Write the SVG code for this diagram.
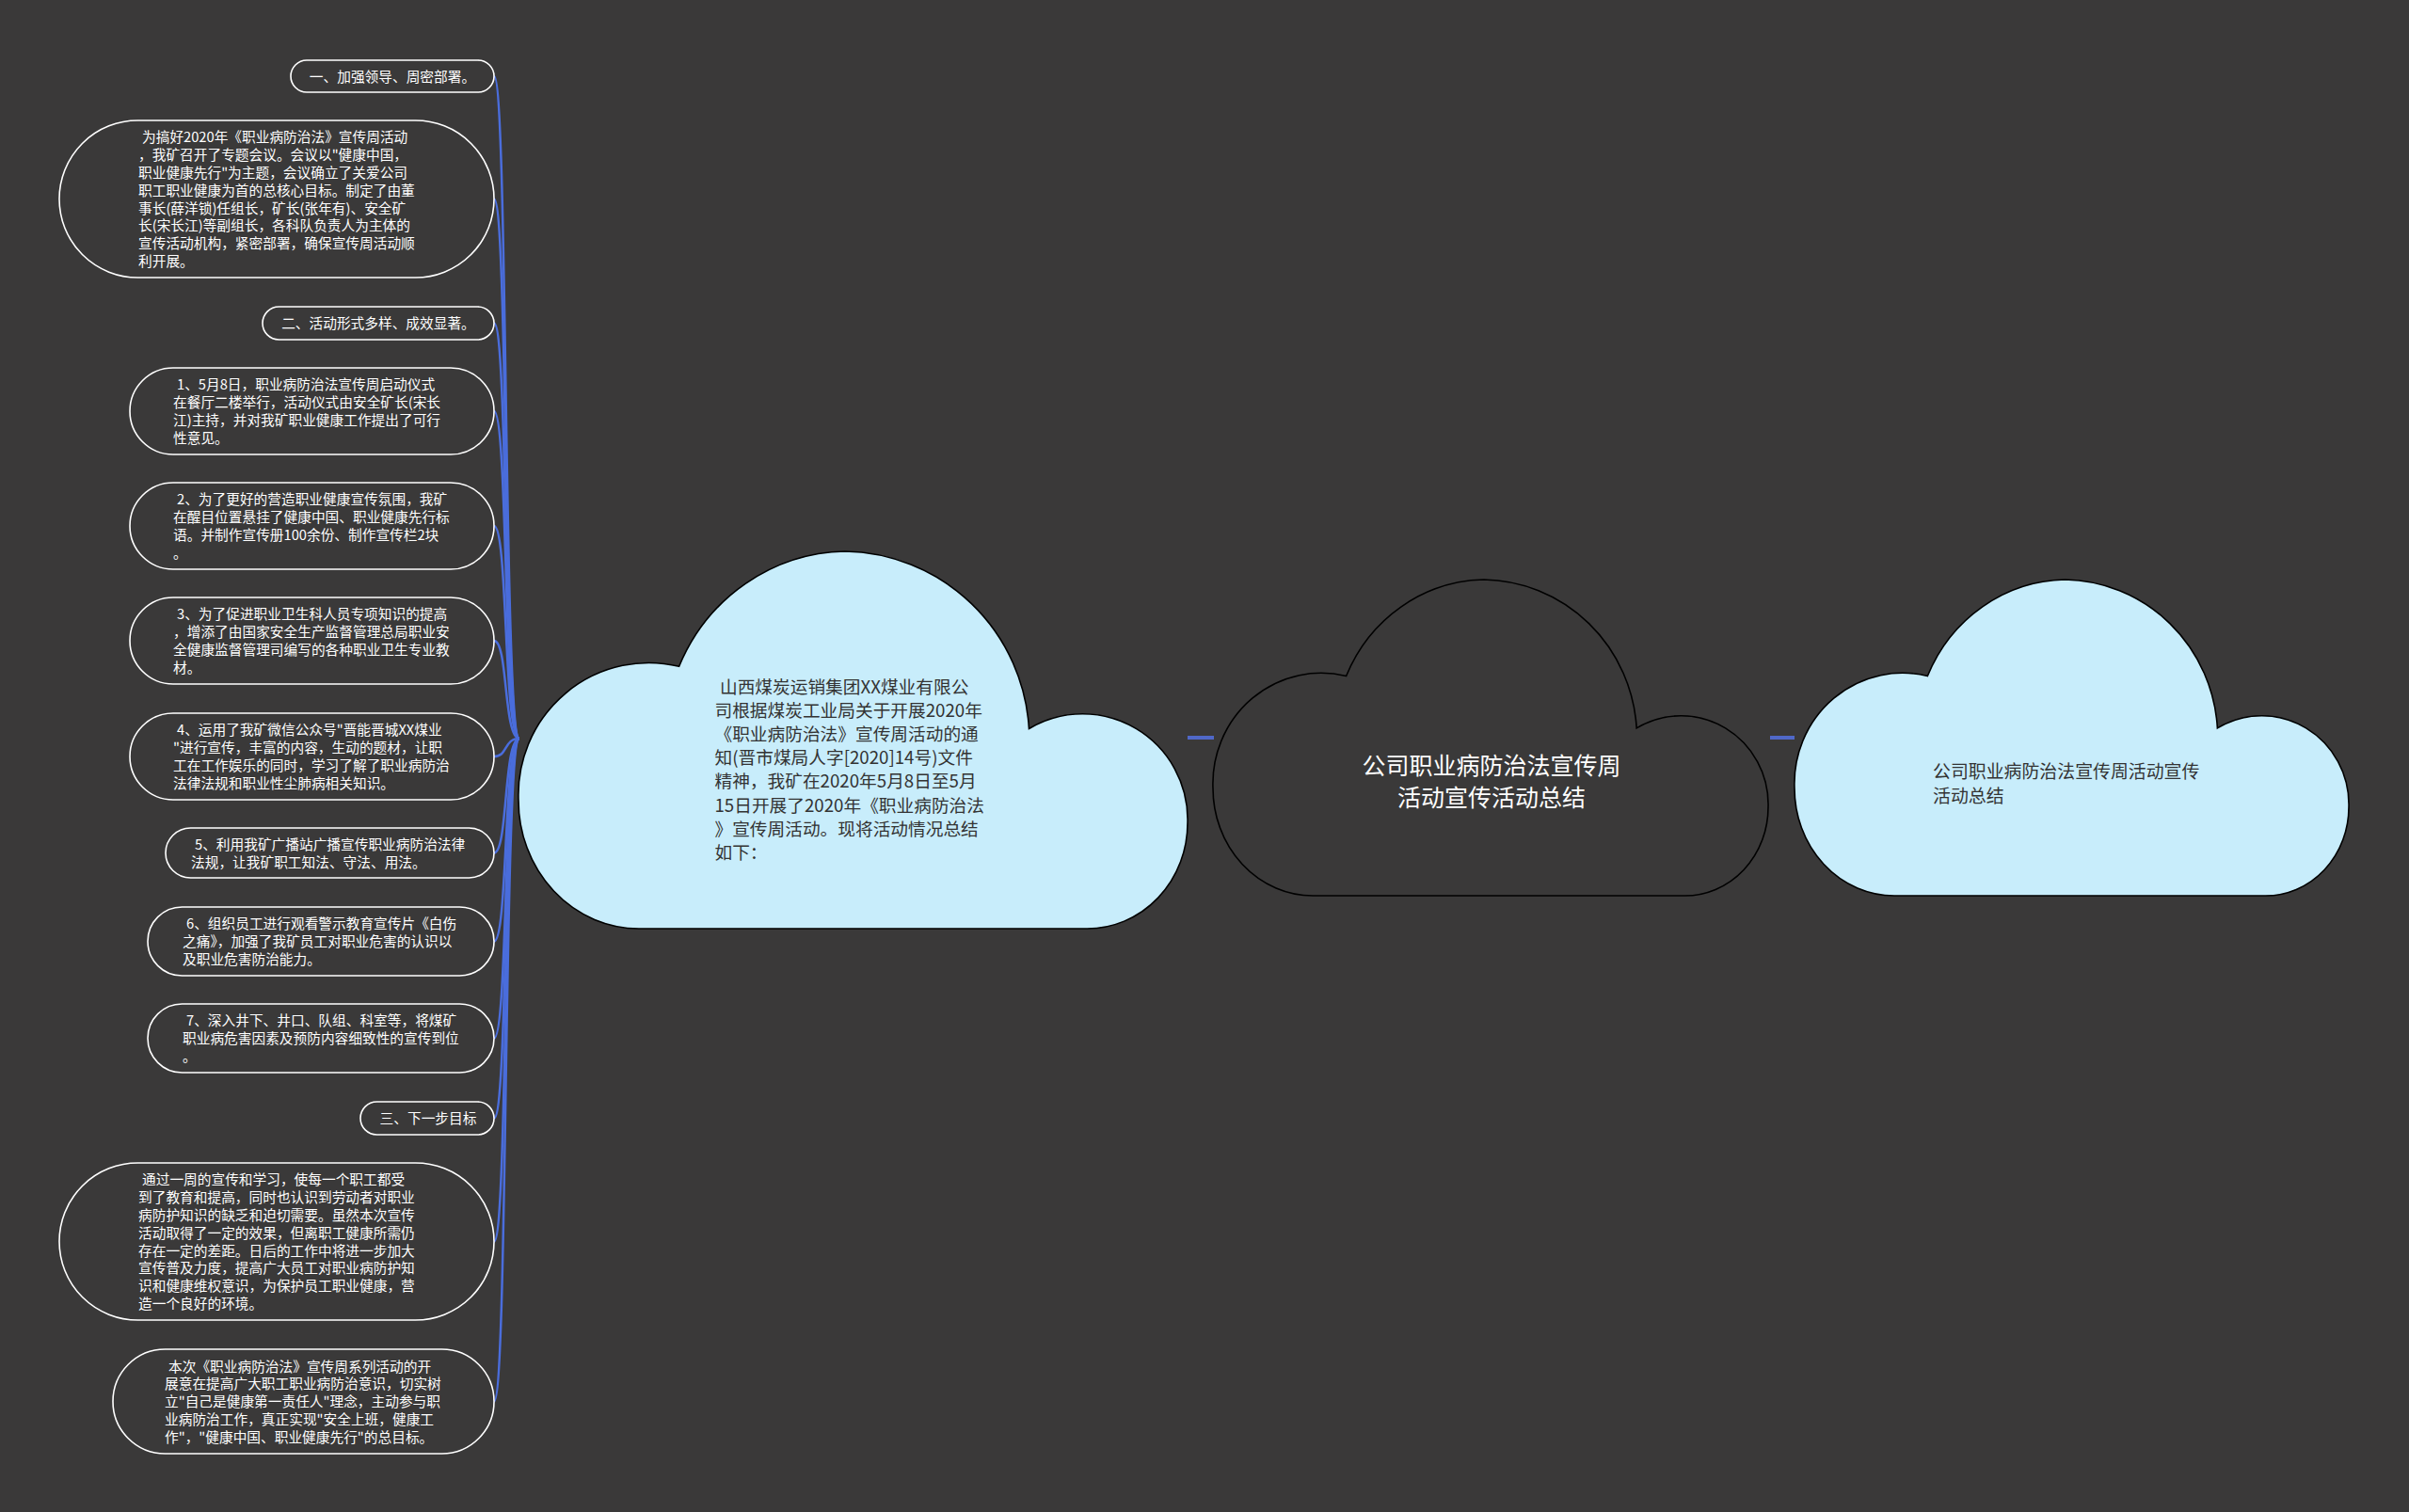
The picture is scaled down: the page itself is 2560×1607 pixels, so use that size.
<svg xmlns="http://www.w3.org/2000/svg" width="2560" height="1607" viewBox="0 0 2560 1607">
<defs>
<style>
.bg{fill:#3a3939}
.pill{fill:none;stroke:#ffffff;stroke-width:1.6}
.pt{font-family:"Noto Sans CJK SC","Microsoft YaHei",sans-serif;font-size:14.7px;fill:#ffffff}
.ph{font-family:"Noto Sans CJK SC","Microsoft YaHei",sans-serif;font-size:14.7px;fill:#ffffff;text-anchor:middle}
.cloud{stroke:#000000;stroke-width:1.6}
.lb{fill:#c8edfb}
.dk{fill:#3a3939}
.ct{font-family:"Noto Sans CJK SC","Microsoft YaHei",sans-serif;font-size:18.7px;fill:#333333}
.rt{font-family:"Noto Sans CJK SC","Microsoft YaHei",sans-serif;font-size:25px;fill:#ffffff;text-anchor:middle}
.conn{fill:none;stroke:#4a6ddc;stroke-width:2.5}
.dash{fill:none;stroke:#5068c8;stroke-width:4}
</style>
</defs>
<rect class="bg" x="0" y="0" width="2560" height="1607"/>

<g id="connectors">
<path class="conn" d="M 525 81 C 540 81, 535 785, 552 785"/>
<path class="conn" d="M 525 211.5 C 540 211.5, 535 785, 552 785"/>
<path class="conn" d="M 525 343.5 C 540 343.5, 535 785, 552 785"/>
<path class="conn" d="M 525 437 C 540 437, 535 785, 552 785"/>
<path class="conn" d="M 525 559 C 540 559, 535 785, 552 785"/>
<path class="conn" d="M 525 681 C 540 681, 535 785, 552 785"/>
<path class="conn" d="M 525 804 C 540 804, 535 785, 552 785"/>
<path class="conn" d="M 525 906.5 C 540 906.5, 535 785, 552 785"/>
<path class="conn" d="M 525 1000.5 C 540 1000.5, 535 785, 552 785"/>
<path class="conn" d="M 525 1103.5 C 540 1103.5, 535 785, 552 785"/>
<path class="conn" d="M 525 1188.5 C 540 1188.5, 535 785, 552 785"/>
<path class="conn" d="M 525 1319.5 C 540 1319.5, 535 785, 552 785"/>
<path class="conn" d="M 525 1489.5 C 540 1489.5, 535 785, 552 785"/>
<line class="dash" x1="1262" y1="784" x2="1290" y2="784"/>
<line class="dash" x1="1881" y1="784" x2="1907" y2="784"/>
</g>

<g id="node-root">
<path class="cloud dk" vector-effect="non-scaling-stroke" transform="translate(1289,616) scale(0.590,0.336)" d="M 180 1000 A 180 340 0 0 1 0 660 A 195 350 0 0 1 240 305 A 275 500 0 0 1 488 0 A 280 500 0 0 1 763 470 A 157 280 0 0 1 1000 720 A 150 280 0 0 1 850 1000 Z"/>
<text class="rt"><tspan x="1585" y="823">公司职业病防治法宣传周</tspan><tspan x="1585" y="856.5">活动宣传活动总结</tspan></text>
</g>

<g id="node-right">
<path class="cloud lb" vector-effect="non-scaling-stroke" transform="translate(1907,616) scale(0.589,0.336)" d="M 180 1000 A 180 340 0 0 1 0 660 A 195 350 0 0 1 240 305 A 275 500 0 0 1 488 0 A 280 500 0 0 1 763 470 A 157 280 0 0 1 1000 720 A 150 280 0 0 1 850 1000 Z"/>
<text class="ct" style="font-size:18.9px"><tspan x="2054" y="827">公司职业病防治法宣传周活动宣传</tspan><tspan x="2054" y="853">活动总结</tspan></text>
</g>

<g id="node-left">
<path class="cloud lb" vector-effect="non-scaling-stroke" transform="translate(551,586) scale(0.711,0.401)" d="M 180 1000 A 180 340 0 0 1 0 660 A 195 350 0 0 1 240 305 A 275 500 0 0 1 488 0 A 280 500 0 0 1 763 470 A 157 280 0 0 1 1000 720 A 150 280 0 0 1 850 1000 Z"/>
<text class="ct">
<tspan x="765" y="737">山西煤炭运销集团XX煤业有限公</tspan>
<tspan x="759.5" y="762.1">司根据煤炭工业局关于开展2020年</tspan>
<tspan x="759.5" y="787.2">《职业病防治法》宣传周活动的通</tspan>
<tspan x="759.5" y="812.3">知(晋市煤局人字[2020]14号)文件</tspan>
<tspan x="759.5" y="837.4">精神，我矿在2020年5月8日至5月</tspan>
<tspan x="759.5" y="862.5">15日开展了2020年《职业病防治法</tspan>
<tspan x="759.5" y="887.6">》宣传周活动。现将活动情况总结</tspan>
<tspan x="759.5" y="912.7">如下：</tspan>
</text>
</g>

<g id="node-h1">
<rect class="pill" x="309" y="64" width="216" height="34" rx="17"/>
<text class="ph" x="417" y="86.6">一、加强领导、周密部署。</text>
</g>

<g id="node-b1">
<rect class="pill" x="63" y="128" width="462" height="167" rx="83.5"/>
<text class="pt">
<tspan x="151" y="151.3">为搞好2020年《职业病防治法》宣传周活动</tspan>
<tspan x="147" y="170.1">，我矿召开了专题会议。会议以"健康中国，</tspan>
<tspan x="147" y="188.9">职业健康先行"为主题，会议确立了关爱公司</tspan>
<tspan x="147" y="207.7">职工职业健康为首的总核心目标。制定了由董</tspan>
<tspan x="147" y="226.5">事长(薛洋锁)任组长，矿长(张年有)、安全矿</tspan>
<tspan x="147" y="245.3">长(宋长江)等副组长，各科队负责人为主体的</tspan>
<tspan x="147" y="264.1">宣传活动机构，紧密部署，确保宣传周活动顺</tspan>
<tspan x="147" y="282.9">利开展。</tspan>
</text>
</g>

<g id="node-h2">
<rect class="pill" x="279" y="326" width="246" height="35" rx="17.5"/>
<text class="ph" x="402" y="349.1">二、活动形式多样、成效显著。</text>
</g>

<g id="node-p1">
<rect class="pill" x="138" y="391" width="387" height="92" rx="46"/>
<text class="pt">
<tspan x="188" y="414.4">1、5月8日，职业病防治法宣传周启动仪式</tspan>
<tspan x="184" y="433.2">在餐厅二楼举行，活动仪式由安全矿长(宋长</tspan>
<tspan x="184" y="452">江)主持，并对我矿职业健康工作提出了可行</tspan>
<tspan x="184" y="470.8">性意见。</tspan>
</text>
</g>

<g id="node-p2">
<rect class="pill" x="138" y="513" width="387" height="92" rx="46"/>
<text class="pt">
<tspan x="188" y="536.4">2、为了更好的营造职业健康宣传氛围，我矿</tspan>
<tspan x="184" y="555.2">在醒目位置悬挂了健康中国、职业健康先行标</tspan>
<tspan x="184" y="574">语。并制作宣传册100余份、制作宣传栏2块</tspan>
<tspan x="184" y="592.8">。</tspan>
</text>
</g>

<g id="node-p3">
<rect class="pill" x="138" y="635" width="387" height="92" rx="46"/>
<text class="pt">
<tspan x="188" y="658.4">3、为了促进职业卫生科人员专项知识的提高</tspan>
<tspan x="184" y="677.2">，增添了由国家安全生产监督管理总局职业安</tspan>
<tspan x="184" y="696">全健康监督管理司编写的各种职业卫生专业教</tspan>
<tspan x="184" y="714.8">材。</tspan>
</text>
</g>

<g id="node-p4">
<rect class="pill" x="138" y="758" width="387" height="92" rx="46"/>
<text class="pt">
<tspan x="188" y="781.4">4、运用了我矿微信公众号"晋能晋城XX煤业</tspan>
<tspan x="184" y="800.2">"进行宣传，丰富的内容，生动的题材，让职</tspan>
<tspan x="184" y="819">工在工作娱乐的同时，学习了解了职业病防治</tspan>
<tspan x="184" y="837.8">法律法规和职业性尘肺病相关知识。</tspan>
</text>
</g>

<g id="node-p5">
<rect class="pill" x="176" y="880" width="349" height="53" rx="26.5"/>
<text class="pt">
<tspan x="207" y="902.7">5、利用我矿广播站广播宣传职业病防治法律</tspan>
<tspan x="203" y="921.5">法规，让我矿职工知法、守法、用法。</tspan>
</text>
</g>

<g id="node-p6">
<rect class="pill" x="157" y="964" width="368" height="73" rx="36.5"/>
<text class="pt">
<tspan x="198" y="987.3">6、组织员工进行观看警示教育宣传片《白伤</tspan>
<tspan x="194" y="1006.1">之痛》，加强了我矿员工对职业危害的认识以</tspan>
<tspan x="194" y="1024.9">及职业危害防治能力。</tspan>
</text>
</g>

<g id="node-p7">
<rect class="pill" x="157" y="1067" width="368" height="73" rx="36.5"/>
<text class="pt">
<tspan x="198" y="1090.3">7、深入井下、井口、队组、科室等，将煤矿</tspan>
<tspan x="194" y="1109.1">职业病危害因素及预防内容细致性的宣传到位</tspan>
<tspan x="194" y="1127.9">。</tspan>
</text>
</g>

<g id="node-h3">
<rect class="pill" x="383" y="1171" width="142" height="35" rx="17.5"/>
<text class="ph" x="455" y="1194.1">三、下一步目标</text>
</g>

<g id="node-b2">
<rect class="pill" x="63" y="1236" width="462" height="167" rx="83.5"/>
<text class="pt">
<tspan x="151" y="1259.3">通过一周的宣传和学习，使每一个职工都受</tspan>
<tspan x="147" y="1278.1">到了教育和提高，同时也认识到劳动者对职业</tspan>
<tspan x="147" y="1296.9">病防护知识的缺乏和迫切需要。虽然本次宣传</tspan>
<tspan x="147" y="1315.7">活动取得了一定的效果，但离职工健康所需仍</tspan>
<tspan x="147" y="1334.5">存在一定的差距。日后的工作中将进一步加大</tspan>
<tspan x="147" y="1353.3">宣传普及力度，提高广大员工对职业病防护知</tspan>
<tspan x="147" y="1372.1">识和健康维权意识，为保护员工职业健康，营</tspan>
<tspan x="147" y="1390.9">造一个良好的环境。</tspan>
</text>
</g>

<g id="node-b3">
<rect class="pill" x="120" y="1434" width="405" height="111" rx="55.5"/>
<text class="pt">
<tspan x="179" y="1457.5">本次《职业病防治法》宣传周系列活动的开</tspan>
<tspan x="175" y="1476.3">展意在提高广大职工职业病防治意识，切实树</tspan>
<tspan x="175" y="1495.1">立"自己是健康第一责任人"理念，主动参与职</tspan>
<tspan x="175" y="1513.9">业病防治工作，真正实现"安全上班，健康工</tspan>
<tspan x="175" y="1532.7">作"，"健康中国、职业健康先行"的总目标。</tspan>
</text>
</g>
</svg>
